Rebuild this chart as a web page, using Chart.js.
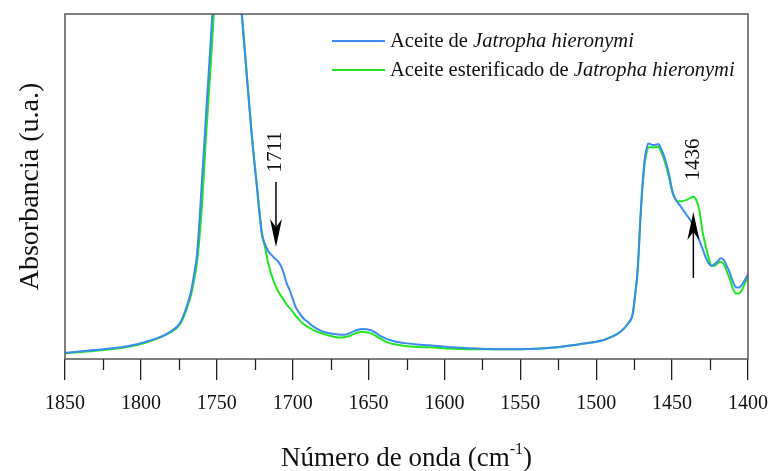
<!DOCTYPE html>
<html>
<head>
<meta charset="utf-8">
<script src="https://cdn.jsdelivr.net/npm/chart.js@4/dist/chart.umd.min.js"></script>
<style>
  html, body { margin: 0; padding: 0; background: #fff; }
  canvas { display: block; }
</style>
</head>
<body>
<canvas id="c" width="769" height="471"></canvas>
<script>
// ---- data (wavenumber in cm-1, absorbance in arbitrary units) ----
const wavenumbers = [1850,1830,1810,1795,1781,1774,1770,1767,1765,1763,1760,1757,1754,1751,1748,1745,1742,1739,1736,1733.6,1730.3,1727,1723.7,1720.4,1718,1716,1714,1712,1710,1708,1706,1704,1702,1700,1698,1696,1693,1690,1686,1682,1678,1674,1670,1666,1663,1660,1657,1654,1651,1648,1645,1642,1639,1636,1632,1626,1618,1610,1595,1572,1550,1528,1511,1500,1495,1490,1484,1479,1476,1474,1473,1472,1471,1470,1469,1468,1467,1465.7,1464,1462.4,1461,1459,1457.5,1456,1454,1452,1450,1448,1446,1444,1442,1440,1438,1436,1434,1432,1430,1428,1426,1424,1422,1420,1418,1416,1414,1412,1410,1408,1406,1404,1402,1400];

const oilAbs = [0.018,0.026,0.036,0.052,0.078,0.106,0.150,0.195,0.245,0.305,0.500,0.714,0.922,1.14,1.33,1.50,1.50,1.35,1.14,1.00,0.825,0.649,0.504,0.365,0.330,0.312,0.302,0.293,0.285,0.272,0.250,0.220,0.200,0.175,0.150,0.136,0.118,0.107,0.093,0.083,0.077,0.073,0.071,0.070,0.074,0.080,0.085,0.087,0.086,0.083,0.075,0.066,0.060,0.055,0.050,0.046,0.042,0.040,0.034,0.029,0.028,0.033,0.043,0.050,0.055,0.064,0.079,0.103,0.130,0.200,0.240,0.310,0.400,0.475,0.535,0.580,0.605,0.625,0.622,0.620,0.621,0.623,0.612,0.597,0.570,0.534,0.490,0.465,0.452,0.440,0.427,0.415,0.402,0.385,0.366,0.343,0.320,0.296,0.278,0.270,0.275,0.283,0.292,0.287,0.270,0.250,0.225,0.208,0.207,0.215,0.230,0.245];

const esterAbs = [0.016,0.024,0.034,0.050,0.076,0.102,0.143,0.185,0.228,0.280,0.430,0.650,0.850,1.07,1.28,1.45,1.50,1.35,1.15,1.01,0.830,0.655,0.510,0.370,0.320,0.276,0.245,0.220,0.200,0.185,0.172,0.158,0.148,0.137,0.125,0.115,0.102,0.093,0.083,0.076,0.070,0.066,0.062,0.063,0.066,0.072,0.077,0.079,0.077,0.074,0.066,0.058,0.051,0.046,0.042,0.038,0.035,0.034,0.030,0.028,0.028,0.033,0.043,0.050,0.055,0.064,0.079,0.103,0.130,0.200,0.240,0.310,0.400,0.470,0.525,0.570,0.595,0.613,0.614,0.613,0.614,0.615,0.603,0.587,0.560,0.525,0.485,0.464,0.457,0.457,0.459,0.462,0.467,0.470,0.460,0.430,0.370,0.330,0.295,0.270,0.270,0.278,0.282,0.275,0.255,0.232,0.205,0.190,0.190,0.200,0.220,0.240];

const seriesLabels = ['Aceite de Jatropha hieronymi', 'Aceite esterificado de Jatropha hieronymi'];
const majorTicks = [1850,1800,1750,1700,1650,1600,1550,1500,1450,1400];
const minorTicks = [1825,1775,1725,1675,1625,1575,1525,1475,1425];
const markers = [
  { wn: 1711, text: '1711', dir: 'down', tail: 0.513, tip: 0.325, textAt: 0.60 },
  { wn: 1436, text: '1436', dir: 'up',   tail: 0.235, tip: 0.426, textAt: 0.578 }
];

const BLUE = '#3a8cec';
const GREEN = '#22e622';
const SERIF = '"Liberation Serif", "Times New Roman", serif';

function pts(ys) { return wavenumbers.map((w, i) => ({ x: w, y: ys[i] })); }

const decor = {
  id: 'decor',
  afterDraw(chart) {
    const { ctx, chartArea: a, scales: { x, y } } = chart;
    ctx.save();
    // frame
    ctx.strokeStyle = '#555';
    ctx.lineWidth = 1.5;
    ctx.strokeRect(a.left, a.top, a.right - a.left, a.bottom - a.top);
    // minor ticks
    ctx.strokeStyle = '#222';
    ctx.lineWidth = 1.3;
    minorTicks.forEach(t => {
      const px = Math.round(x.getPixelForValue(t)) + 0.5;
      ctx.beginPath(); ctx.moveTo(px, a.bottom); ctx.lineTo(px, a.bottom + 11); ctx.stroke();
    });
    // y title
    ctx.fillStyle = '#111';
    ctx.font = '28px ' + SERIF;
    ctx.textAlign = 'center';
    ctx.textBaseline = 'middle';
    ctx.save();
    ctx.translate(31, (a.top + a.bottom) / 2);
    ctx.rotate(-Math.PI / 2);
    ctx.fillText('Absorbancia (u.a.)', 0, 0);
    ctx.restore();
    // x title with superscript
    const main = 'Número de onda (cm';
    const sup = '-1';
    const close = ')';
    ctx.font = '27px ' + SERIF;
    const w1 = ctx.measureText(main).width;
    const w3 = ctx.measureText(close).width;
    ctx.font = '16px ' + SERIF;
    const w2 = ctx.measureText(sup).width;
    const total = w1 + w2 + w3;
    let sx = (a.left + a.right) / 2 - total / 2;
    const ty = 458;
    ctx.textAlign = 'left';
    ctx.textBaseline = 'alphabetic';
    ctx.font = '27px ' + SERIF;
    ctx.fillText(main, sx, ty + 8);
    sx += w1;
    ctx.font = '16px ' + SERIF;
    ctx.fillText(sup, sx, ty - 4);
    sx += w2;
    ctx.font = '27px ' + SERIF;
    ctx.fillText(close, sx, ty + 8);

    // legend
    const items = [
      { color: BLUE, roman: 'Aceite de ', italic: 'Jatropha hieronymi', y: 41 },
      { color: GREEN, roman: 'Aceite esterificado de ', italic: 'Jatropha hieronymi', y: 70 }
    ];
    items.forEach(it => {
      ctx.strokeStyle = it.color;
      ctx.lineWidth = 2;
      ctx.beginPath(); ctx.moveTo(332, it.y); ctx.lineTo(385, it.y); ctx.stroke();
      ctx.fillStyle = '#111';
      ctx.textBaseline = 'middle';
      ctx.textAlign = 'left';
      ctx.font = '20.5px ' + SERIF;
      ctx.fillText(it.roman, 390, it.y + 1);
      const rw = ctx.measureText(it.roman).width;
      ctx.font = 'italic 20.5px ' + SERIF;
      ctx.fillText(it.italic, 390 + rw, it.y + 1);
    });

    // annotations
    markers.forEach(m => {
      const px = x.getPixelForValue(m.wn);
      const tail = y.getPixelForValue(m.tail);
      const tip = y.getPixelForValue(m.tip);
      const s = m.dir === 'down' ? 1 : -1;
      ctx.strokeStyle = '#000';
      ctx.fillStyle = '#000';
      ctx.lineWidth = 1.5;
      ctx.beginPath(); ctx.moveTo(px, tail); ctx.lineTo(px, tip - s * 20); ctx.stroke();
      ctx.beginPath();
      ctx.moveTo(px, tip);
      ctx.lineTo(px - 6, tip - s * 28);
      ctx.lineTo(px, tip - s * 20);
      ctx.lineTo(px + 6, tip - s * 28);
      ctx.closePath();
      ctx.fill();
      ctx.save();
      ctx.translate(px, y.getPixelForValue(m.textAt));
      ctx.rotate(-Math.PI / 2);
      ctx.font = '21px ' + SERIF;
      ctx.textAlign = 'center';
      ctx.textBaseline = 'middle';
      ctx.fillStyle = '#111';
      ctx.fillText(m.text, 0, 0);
      ctx.restore();
    });
    ctx.restore();
  }
};

new Chart(document.getElementById('c'), {
  type: 'line',
  data: {
    datasets: [
      { label: seriesLabels[0], data: pts(oilAbs), borderColor: BLUE, borderWidth: 2, pointRadius: 0, cubicInterpolationMode: 'monotone', fill: false },
      { label: seriesLabels[1], data: pts(esterAbs), borderColor: GREEN, borderWidth: 2, pointRadius: 0, cubicInterpolationMode: 'monotone', fill: false }
    ]
  },
  options: {
    responsive: false,
    animation: false,
    devicePixelRatio: 1,
    layout: { padding: { left: 65, right: 21, top: 14, bottom: 0 } },
    plugins: { legend: { display: false }, tooltip: { enabled: false } },
    scales: {
      x: {
        type: 'linear',
        reverse: true,
        min: 1400,
        max: 1850,
        afterBuildTicks: s => { s.ticks = majorTicks.map(v => ({ value: v })); },
        afterFit: s => { s.height = 112; s.paddingLeft = 0; s.paddingRight = 0; },
        border: { display: false },
        grid: { display: true, drawOnChartArea: false, drawTicks: true, tickLength: 21, color: '#222', lineWidth: 1.3 },
        ticks: { padding: 12, color: '#111', font: { family: SERIF, size: 20 }, maxRotation: 0, autoSkip: false, callback: v => String(v) }
      },
      y: {
        display: false,
        min: 0,
        max: 1
      }
    }
  },
  plugins: [decor]
});
</script>
</body>
</html>
